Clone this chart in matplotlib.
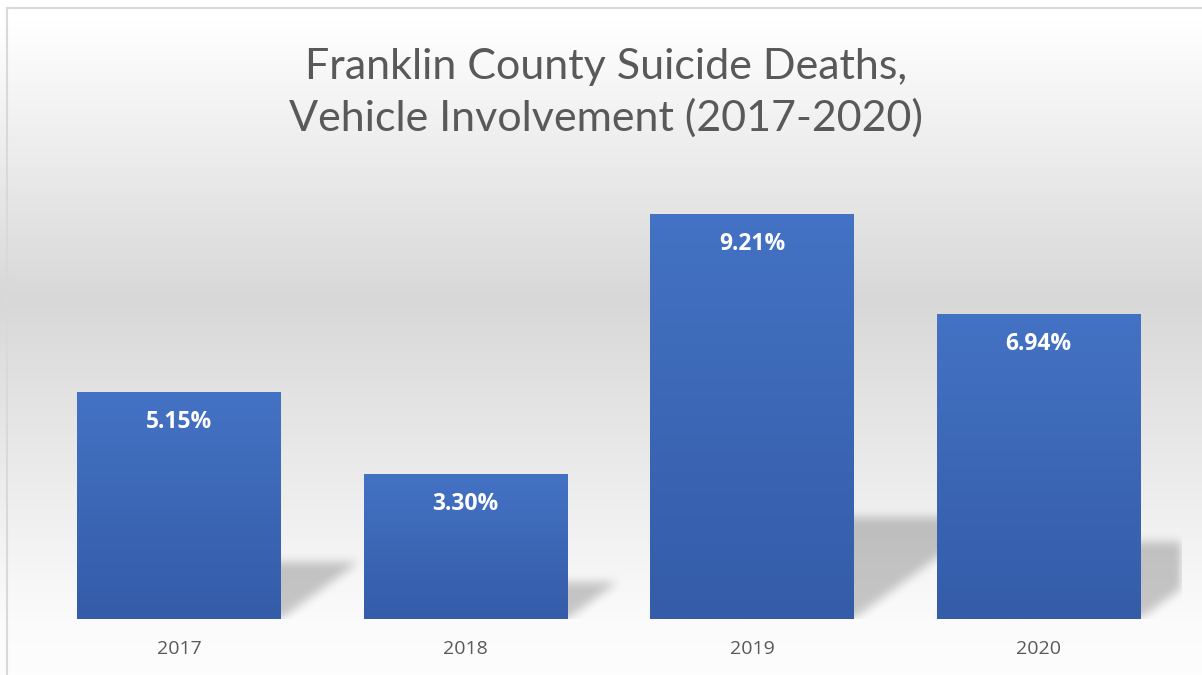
import numpy as np
import matplotlib
matplotlib.use("Agg")
import matplotlib.pyplot as plt
from matplotlib.colors import LinearSegmentedColormap
from matplotlib.lines import Line2D

# ---- data ----
years = ["2017", "2018", "2019", "2020"]
pct = [5.15, 3.30, 9.21, 6.94]
labels = ["5.15%", "3.30%", "9.21%", "6.94%"]
title = "Franklin County Suicide Deaths,\nVehicle Involvement (2017-2020)"

W, H, DPI = 1202, 675, 100
fig = plt.figure(figsize=(W / DPI, H / DPI), dpi=DPI)

# ---- background gradient (figure) ----
bg = fig.add_axes([0, 0, 1, 1], zorder=0)
bg.set_axis_off()
bg_cmap = LinearSegmentedColormap.from_list(
    "bg", [(0.0, "#ffffff"), (0.03, "#ffffff"), (0.44, "#d8d8d8"), (0.92, "#fbfbfb"), (1.0, "#fdfdfd")])
grad = np.linspace(0, 1, 675).reshape(-1, 1)
bg.imshow(grad, cmap=bg_cmap, aspect="auto", extent=[0, 1, 0, 1], origin="upper",
          vmin=0, vmax=1)
bg.set_xlim(0, 1)
bg.set_ylim(0, 1)
# chart border (top and left visible)
bx, by = 6.5 / W, 1 - 7.5 / H
bg.add_line(Line2D([bx, bx], [0, by], color="#d9d9d9", lw=1.5))
bg.add_line(Line2D([bx, 1], [by, by], color="#d9d9d9", lw=1.5))

# ---- main axes ----
left_px, right_px, bottom_px, top_px = 35.75, 1181.75, 619, 179
ax = fig.add_axes([left_px / W, 1 - bottom_px / H, (right_px - left_px) / W, (bottom_px - top_px) / H],
                  zorder=1)
ax.patch.set_alpha(0)
x = np.arange(len(years))
ax.set_xlim(-0.5, len(years) - 0.5)
ax.set_ylim(0, 10)

# ---- perspective shadows ----
nx, ny = int(right_px - left_px), int(bottom_px - top_px)
xs = np.linspace(-0.5, len(years) - 0.5, nx)
ys = np.linspace(10, 0, ny)
XX, YY = np.meshgrid(xs, ys)
mask = np.zeros_like(XX)
bw = 0.712
for xi, v in zip(x, pct):
    sh_h = 0.25 * v
    dx = 0.0522 * v
    t = YY / sh_h
    inside = (t >= 0) & (t <= 1) & (XX >= xi - bw / 2 + t * dx) & (XX <= xi + bw / 2 + t * dx)
    mask = np.maximum(mask, inside.astype(float))


def box_blur(a, r, axis):
    k = np.ones(2 * r + 1) / (2 * r + 1)
    return np.apply_along_axis(lambda m: np.convolve(m, k, mode="same"), axis, a)


for _ in range(2):
    mask = box_blur(mask, 5, 0)
    mask = box_blur(mask, 5, 1)
rgba = np.zeros((ny, nx, 4))
rgba[..., 3] = mask * 0.21
ax.imshow(rgba, extent=[-0.5, len(years) - 0.5, 0, 10], aspect="auto", zorder=1,
          interpolation="bilinear")

# ---- bars with vertical gradient ----
bars = ax.bar(x, pct, width=bw, color="#4472c4", zorder=2, linewidth=0)
bar_cmap = LinearSegmentedColormap.from_list("bar", ["#345ca8", "#4472c4"])
g = np.linspace(0, 1, 256).reshape(-1, 1)
for b in bars:
    im = ax.imshow(g, cmap=bar_cmap, origin="lower", aspect="auto", zorder=3,
                   extent=[b.get_x(), b.get_x() + b.get_width(), 0, b.get_height()])
    im.set_clip_path(b)
ax.set_xlim(-0.5, len(years) - 0.5)
ax.set_ylim(0, 10)

for xi, v, lab in zip(x, pct, labels):
    ax.annotate(lab, (xi, v), xytext=(0, -21.5), textcoords="offset points",
                ha="center", va="center", color="white", fontsize=16.5,
                fontweight="bold", family=["Open Sans", "DejaVu Sans"], zorder=5)

ax.set_xticks(x)
ax.set_xticklabels(years, fontsize=14, color="#595959", family=["Open Sans", "DejaVu Sans"])
ax.tick_params(axis="x", length=0, pad=15)
ax.set_yticks([])
for s in ax.spines.values():
    s.set_visible(False)

fig.text(606 / W, 1 - 93 / H, title, ha="center", va="center", fontsize=31,
         color="#595959", family=["Lato", "DejaVu Sans"], fontweight="normal",
         linespacing=1.38)

fig.savefig("out.png", dpi=DPI)
